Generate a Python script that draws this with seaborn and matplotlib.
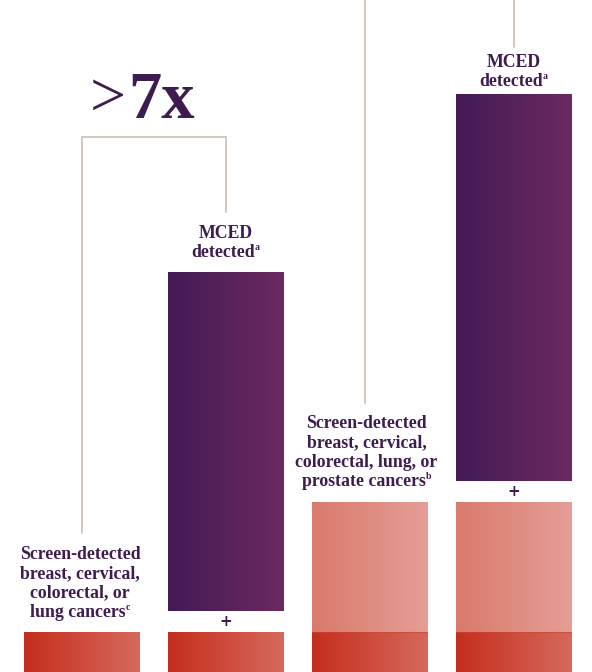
import numpy as np
import pandas as pd
import matplotlib
matplotlib.use("Agg")
import matplotlib.pyplot as plt
import seaborn as sns
from matplotlib.colors import LinearSegmentedColormap

# ---------------- data ----------------
bars = ["Screen 4", "Screen 4 + MCED", "Screen 5", "Screen 5 + MCED"]
base_screen = [40, 40, 40, 40]        # screen-detected (breast, cervical, colorectal, lung)
extra_screen = [0, 0, 130, 130]       # additional screen-detected (prostate)
mced = [0, 339, 0, 387]               # MCED detected
gap = 21                              # space holding the "+"

labels = [
    ["Screen-detected", "breast, cervical,", "colorectal, or", "lung cancers"],
    ["MCED", "detected"],
    ["Screen-detected", "breast, cervical,", "colorectal, lung, or", "prostate cancers"],
    ["MCED", "detected"],
]
footnotes = ["c", "a", "b", "a"]
ratio_text = (">", "7x")

# ---------------- style ----------------
sns.set_theme(style="white")
plt.rcParams["font.family"] = ["Liberation Serif", "DejaVu Serif"]

TXT = "#3F1C50"
LINE = "#CFC4B8"
cm_red = LinearSegmentedColormap.from_list("red", ["#C52E1C", "#D6695C"])
cm_salmon = LinearSegmentedColormap.from_list("salmon", ["#D97A6C", "#E59E97"])
cm_purple = LinearSegmentedColormap.from_list("purple", ["#421B55", "#6B2A5F"])

fig = plt.figure(figsize=(5.92, 6.72), dpi=100)
ax = fig.add_axes([0, 0, 1, 1])

base = np.array(base_screen, float)
extra = np.array(extra_screen, float)
mced_arr = np.array(mced, float)
mced_bottom = base + extra + gap
layers = [
    (base, np.zeros(4), cm_red),
    (extra, base, cm_salmon),
    (mced_arr, mced_bottom, cm_purple),
]
grad = np.linspace(0, 1, 256).reshape(1, -1)
for heights, bottoms, cmap in layers:
    n0 = len(ax.patches)
    df = pd.DataFrame({"bar": bars, "value": heights})
    sns.barplot(data=df, x="bar", y="value", order=bars, color="white",
                width=0.8, errorbar=None, linewidth=0, ax=ax)
    for p, b, h in zip(ax.patches[n0:], bottoms, heights):
        p.set_y(b)
        if h <= 0:
            p.set_visible(False)
            continue
        x0, w = p.get_x(), p.get_width()
        im = ax.imshow(grad, cmap=cmap, extent=[x0, x0 + w, b, b + h],
                       aspect="auto", interpolation="bicubic", zorder=2)
        im.set_clip_path(p)

# thin darker seam where salmon meets red
for i, e in enumerate(extra):
    if e > 0:
        ax.plot([i - 0.4, i + 0.4], [base[i], base[i]], color="#C9472F",
                lw=0.8, zorder=3, alpha=0.7)

mced_top = mced_bottom + mced_arr
screen_top = base + extra

# "+" signs
for i, m in enumerate(mced):
    if m > 0:
        ax.text(i, screen_top[i] + gap / 2, "+", ha="center", va="center",
                fontsize=11, fontweight="bold", color=TXT, zorder=4,
                family=["DejaVu Sans"])

def lines(x, y0, rows, sup, step=19.3, size=12.8):
    for k, r in enumerate(rows):
        last = k == len(rows) - 1
        t = ax.text(x - (0.016 if last else 0), y0 - k * step, r, ha="center",
                    va="baseline", fontsize=size, fontweight="bold",
                    color=TXT, zorder=4)
        if last:
            ax.annotate(sup, xy=(1, 0), xycoords=t, xytext=(0.0, 6.5),
                        textcoords="offset points", ha="left", va="bottom",
                        fontsize=7, fontweight="bold", color=TXT, zorder=4)

lines(-0.01, 113, labels[0], footnotes[0])
lines(1.0, mced_top[1] + 34, labels[1], footnotes[1])
lines(1.98, screen_top[2] + 74, labels[2], footnotes[2])
lines(3.0, mced_top[3] + 27, labels[3], footnotes[3])

# ratio annotation
ax.text(0.31, 556, ratio_text[0], ha="right", va="baseline", fontsize=46,
        color=TXT, fontweight="light", zorder=4)
ax.text(0.325, 554, ratio_text[1], ha="left", va="baseline", fontsize=48,
        color=TXT, fontweight="bold", zorder=4)

# connector lines
ax.plot([0, 0, 1, 1], [139, 535, 535, 460], color=LINE, lw=1.3, zorder=1,
        solid_joinstyle="miter")
ax.plot([1.97, 1.97], [269, 680], color=LINE, lw=1.3, zorder=1)
ax.plot([3.0, 3.0], [625, 680], color=LINE, lw=1.3, zorder=1)

ax.set_xlim(-81.5 / 144, (592 - 81.5) / 144)
ax.set_ylim(0, 672)
ax.axis("off")
fig.savefig("out.png", dpi=100, facecolor="white")
